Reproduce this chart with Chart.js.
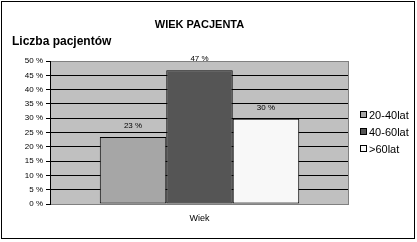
<!DOCTYPE html>
<html lang="pl">
<head>
  <meta charset="UTF-8" />
  <title>Wiek pacjenta</title>
  <script src="https://cdn.jsdelivr.net/npm/chart.js"></script>
  <style>
    body { margin: 0; background: #fff; }
    #wrap { width: 417px; height: 242px; position: relative; }
  </style>
</head>
<body>
  <div id="wrap"><canvas id="chart"></canvas></div>

  <script>
    const categories = ['Wiek'];
    const groups = ['20-40lat', '40-60lat', '>60lat'];
    const shares = [23.4, 46.8, 29.8];
    const shareLabels = ['23 %', '47 %', '30 %'];
    const colors = ['#a6a6a6', '#555555', '#f8f8f8'];
    const yTicks = [0, 5, 10, 15, 20, 25, 30, 35, 40, 45, 50];

    const FONT = '"Liberation Sans", Arial, sans-serif';

    // background, frame, titles, bar labels and legend
    const decor = {
      id: 'decor',
      beforeDraw(chart) {
        const { ctx, chartArea: a } = chart;
        ctx.save();
        ctx.fillStyle = '#fff';
        ctx.fillRect(0, 0, chart.width, chart.height);
        ctx.fillStyle = '#c0c0c0';
        ctx.fillRect(a.left, a.top, a.right - a.left, a.bottom - a.top);
        ctx.restore();
      },
      beforeDatasetsDraw(chart) {
        const { ctx, chartArea: a } = chart;
        ctx.save();
        // plot border (grey top/right/bottom)
        ctx.strokeStyle = '#808080';
        ctx.lineWidth = 1;
        ctx.strokeRect(a.left + 0.5, a.top + 0.5, a.right - a.left - 1, a.bottom - a.top);
        // left axis line
        ctx.strokeStyle = '#000';
        ctx.beginPath();
        ctx.moveTo(a.left + 0.5, a.top);
        ctx.lineTo(a.left + 0.5, a.bottom + 1);
        ctx.stroke();
        ctx.restore();
      },
      afterDatasetsDraw(chart) {
        const { ctx, chartArea: a } = chart;
        ctx.save();
        // outer frame
        ctx.strokeStyle = '#000';
        ctx.lineWidth = 1;
        ctx.strokeRect(1.5, 1.5, 413, 237);

        // titles
        ctx.fillStyle = '#000';
        ctx.textAlign = 'center';
        ctx.textBaseline = 'middle';
        ctx.font = 'bold 11px ' + FONT;
        ctx.fillText('WIEK PACJENTA', (a.left + a.right) / 2, 25);
        ctx.textAlign = 'left';
        ctx.font = 'bold 12px ' + FONT;
        ctx.fillText('Liczba pacjentów', 12, 42);

        // value labels
        ctx.textAlign = 'center';
        ctx.font = '8px ' + FONT;
        chart.data.datasets.forEach((ds, i) => {
          const bar = chart.getDatasetMeta(i).data[0];
          ctx.fillText(shareLabels[i], bar.x, bar.y - 11);
        });

        // legend
        ctx.textAlign = 'left';
        ctx.font = '11px ' + FONT;
        const ly = [115, 132, 149];
        chart.data.datasets.forEach((ds, i) => {
          ctx.fillStyle = ds.backgroundColor;
          ctx.fillRect(360.5, ly[i] - 3.5, 6, 6);
          ctx.strokeStyle = '#000';
          ctx.strokeRect(360.5, ly[i] - 3.5, 6, 6);
          ctx.fillStyle = '#000';
          ctx.fillText(ds.label, 369, ly[i] + 0.5);
        });
        ctx.restore();
      }
    };

    new Chart(document.getElementById('chart'), {
      type: 'bar',
      data: {
        labels: categories,
        datasets: groups.map((g, i) => ({
          label: g,
          data: [shares[i]],
          backgroundColor: colors[i],
          borderColor: '#000',
          borderWidth: 1,
          borderSkipped: false,
          barPercentage: 1,
          categoryPercentage: 0.667
        }))
      },
      options: {
        responsive: true,
        maintainAspectRatio: false,
        animation: false,
        events: [],
        layout: { padding: { top: 61, right: 68, left: 0, bottom: 0 } },
        plugins: {
          legend: { display: false },
          title: { display: false },
          tooltip: { enabled: false }
        },
        scales: {
          x: {
            grid: { display: false, drawTicks: false },
            border: { display: false },
            ticks: { color: '#000', font: { family: FONT, size: 9 }, padding: 9 },
            afterFit(s) { s.height = 38; }
          },
          y: {
            min: 0,
            max: 50,
            afterBuildTicks(s) { s.ticks = yTicks.map(v => ({ value: v })); },
            grid: {
              color: ctx => (ctx.tick && ctx.tick.value === 50 ? '#808080' : '#000'),
              lineWidth: 1,
              tickLength: 4,
              tickColor: '#000'
            },
            border: { display: false },
            ticks: {
              color: '#000',
              font: { family: FONT, size: 8 },
              padding: 3,
              callback: v => v + ' %'
            },
            afterFit(s) { s.width = 50; }
          }
        }
      },
      plugins: [decor]
    });
  </script>
</body>
</html>
